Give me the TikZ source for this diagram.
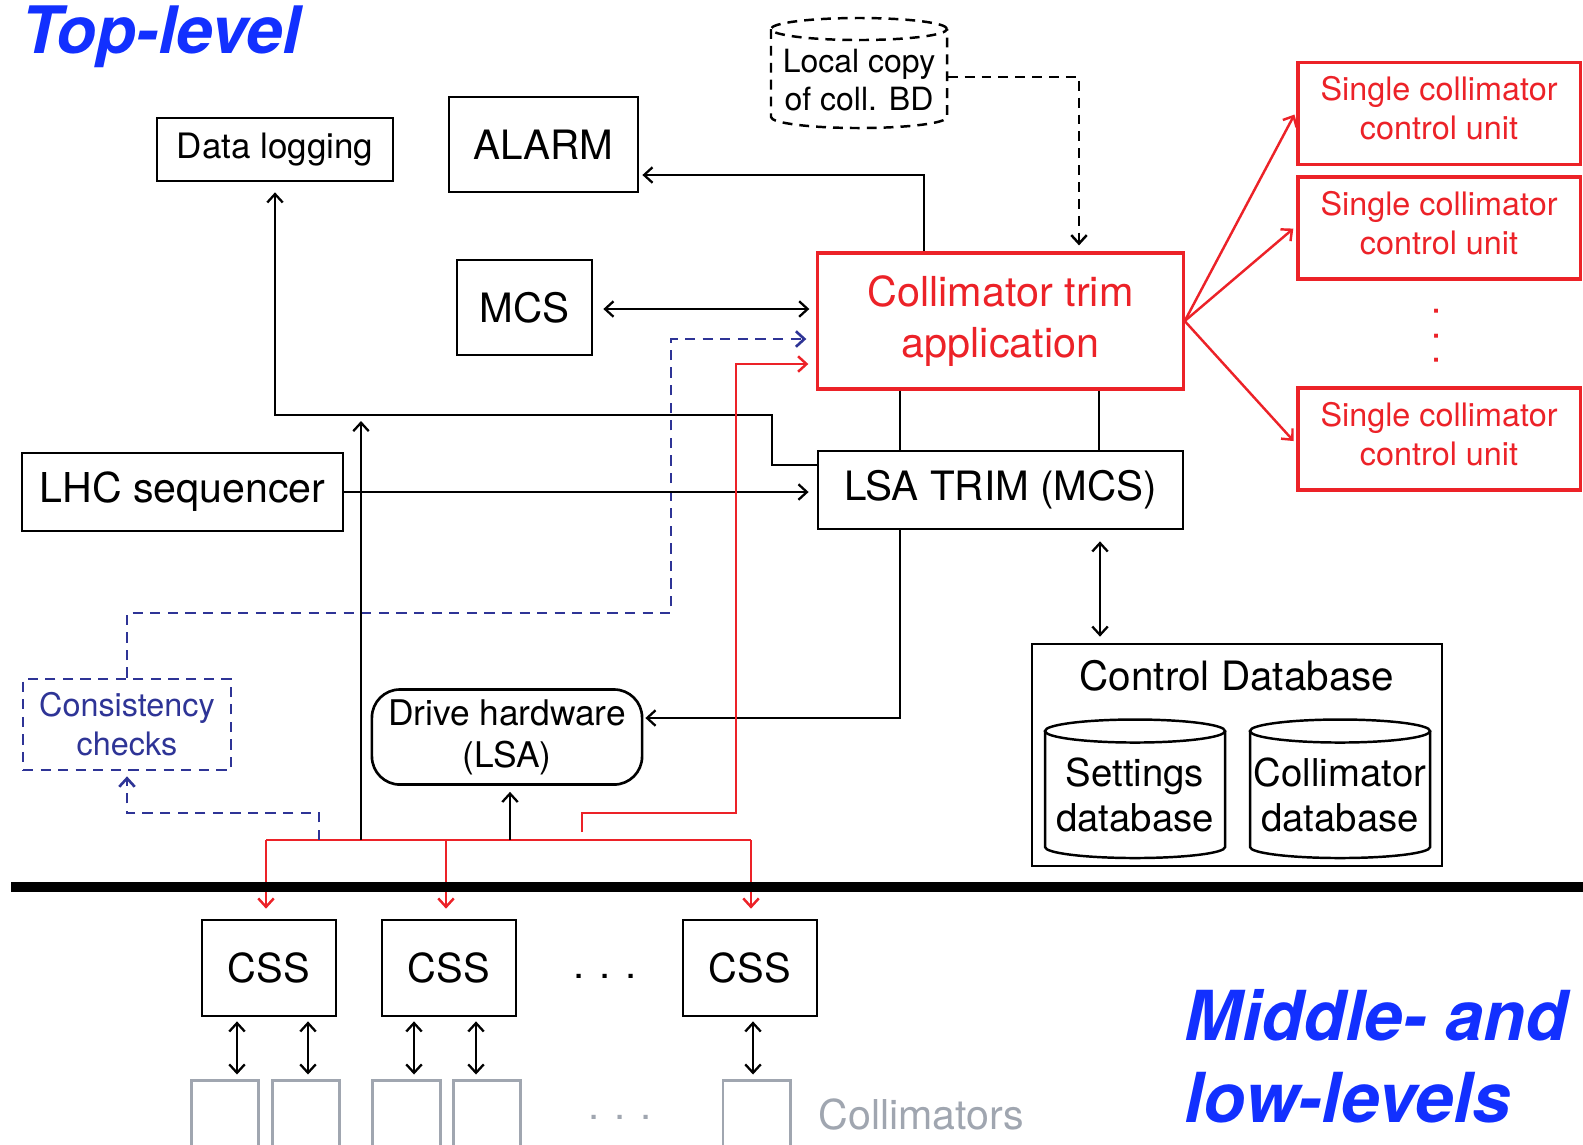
\documentclass[tikz,border=0pt]{standalone}
\usepackage{fontspec}
\setmainfont{TeX Gyre Heros}
\usetikzlibrary{arrows.meta}

\definecolor{trimred}{RGB}{236,34,40}
\definecolor{chkblue}{RGB}{46,52,150}
\definecolor{lvlblue}{RGB}{18,48,255}
\definecolor{collgray}{RGB}{160,166,176}

\begin{document}
\begin{tikzpicture}[x=0.01cm, y=-0.01cm,
  tip/.style={-{Straight Barb[length=2.4pt,width=4.4pt]}},
  dtip/.style={{Straight Barb[length=2.4pt,width=4.4pt]}-{Straight Barb[length=2.4pt,width=4.4pt]}},
  box/.style={draw, line width=0.75pt, inner sep=0pt, align=center},
  redbox/.style={box, draw=trimred, text=trimred, line width=0.9pt},
  unitbox/.style={redbox, minimum width=2.82cm, minimum height=1.02cm, text depth=3pt, font=\fontsize{9.2pt}{11.1pt}\selectfont},
  collbox/.style={draw=collgray, line width=0.85pt, inner sep=0pt, minimum width=0.67cm, minimum height=1.0cm},
  wire/.style={line width=0.65pt},
  redwire/.style={line width=0.7pt, draw=trimred},
  dashline/.style={line width=0.7pt, dash pattern=on 2.8pt off 2pt},
  chk/.style={line width=0.75pt, draw=chkblue, dash pattern=on 2.9pt off 2.1pt},
  big/.style={font=\fontsize{11.5pt}{14pt}\selectfont},
  level/.style={anchor=base west, inner sep=0pt, text=lvlblue}
]
\useasboundingbox (0,0) rectangle (1583,1144);

% level titles
\node[level, font=\bfseries\itshape\fontsize{18.6pt}{22pt}\selectfont] (toplevel) at (21,53) {Top-level};
\node[level, font=\bfseries\itshape\fontsize{19.6pt}{23pt}\selectfont] (midlevel) at (1184,1040) {Middle- and};
\node[level, font=\bfseries\itshape\fontsize{19.6pt}{23pt}\selectfont] (lowlevel) at (1184,1122) {low-levels};

% top-level blocks
\node[box, minimum width=2.36cm, minimum height=0.63cm, font=\fontsize{9.95pt}{12pt}\selectfont] (datalog) at (275,149.5) {Data logging};
\node[box, big, minimum width=1.89cm, minimum height=0.95cm] (alarm) at (543.5,144.5) {ALARM};
\node[box, big, minimum width=1.35cm, minimum height=0.95cm] (mcs) at (524.5,307.5) {MCS};
\node[redbox, minimum width=3.65cm, minimum height=1.36cm, font=\fontsize{11.75pt}{14.5pt}\selectfont] (trim) at (1000.5,321) {Collimator trim\\application};
\node[box, big, minimum width=3.65cm, minimum height=0.78cm] (lsa) at (1000.5,490) {LSA TRIM (MCS)};
\node[box, minimum width=3.21cm, minimum height=0.78cm, font=\fontsize{11.7pt}{14pt}\selectfont] (lhc) at (182.5,492) {LHC sequencer};
\node[draw=chkblue, text=chkblue, chk, inner sep=0pt, align=center, minimum width=2.08cm, minimum height=0.91cm, font=\fontsize{9.2pt}{11.1pt}\selectfont] (cons) at (127,724.5) {Consistency\\checks};
\node[box, rounded corners=0.28cm, minimum width=2.70cm, minimum height=0.95cm, font=\fontsize{10.05pt}{12pt}\selectfont] (drive) at (507,737) {Drive hardware\\(LSA)};

% local copy of the collimator database
\node[inner sep=0pt, align=center, minimum width=1.76cm, minimum height=0.9cm, font=\fontsize{9.1pt}{10.8pt}\selectfont] (localdb) at (859,80) {Local copy\\of coll. BD};
\draw[dashline] (771,29) -- (771,117) arc[start angle=180, end angle=360, x radius=0.88cm, y radius=0.11cm] -- (947,29);
\draw[dashline] (859,29) ellipse[x radius=0.88cm, y radius=0.11cm];

% single collimator control units
\node[unitbox] (u1) at (1439,113.5) {Single collimator\\control unit};
\node[unitbox] (u2) at (1439,228) {Single collimator\\control unit};
\node[unitbox] (u3) at (1439,439) {Single collimator\\control unit};
\node[text=trimred, rotate=90, inner sep=0pt, font=\fontsize{10.8pt}{13pt}\selectfont] (udots) at (1436,336) {. . .};

% control database
\node[box, minimum width=4.10cm, minimum height=2.22cm] (ctrldb) at (1237,755) {};
\node[big, inner sep=0pt] (ctrltitle) at (1237,676) {Control Database};
\node[inner sep=0pt, align=center, font=\fontsize{10.9pt}{12.8pt}\selectfont] (setdb) at (1135,795) {Settings\\database};
\node[inner sep=0pt, align=center, font=\fontsize{10.9pt}{12.8pt}\selectfont] (colldb) at (1340,795) {Collimator\\database};
\draw[line width=0.7pt] (1045,731) -- (1045,847) arc[start angle=180, end angle=360, x radius=0.9cm, y radius=0.11cm] -- (1225,731);
\draw[line width=0.7pt] (1135,731) ellipse[x radius=0.9cm, y radius=0.115cm];
\draw[line width=0.7pt] (1250,731) -- (1250,847) arc[start angle=180, end angle=360, x radius=0.9cm, y radius=0.11cm] -- (1430,731);
\draw[line width=0.7pt] (1340,731) ellipse[x radius=0.9cm, y radius=0.115cm];

% CSS units and collimators
\node[box, minimum width=1.34cm, minimum height=0.96cm, font=\fontsize{11.35pt}{14pt}\selectfont] (css1) at (269,968) {CSS};
\node[box, minimum width=1.34cm, minimum height=0.96cm, font=\fontsize{11.35pt}{14pt}\selectfont] (css2) at (449,968) {CSS};
\node[box, minimum width=1.34cm, minimum height=0.96cm, font=\fontsize{11.35pt}{14pt}\selectfont] (css3) at (750,968) {CSS};
\node[inner sep=0pt, font=\fontsize{11.4pt}{14pt}\selectfont] (cssdots) at (605,976) {. . .};
\node[collbox] (col1) at (225,1130) {};
\node[collbox] (col2) at (306,1130) {};
\node[collbox] (col3) at (406.5,1130) {};
\node[collbox] (col4) at (487,1130) {};
\node[collbox] (col5) at (756.5,1130) {};
\node[inner sep=0pt, text=collgray, font=\fontsize{11.4pt}{14pt}\selectfont] (coldots) at (620,1117) {. . .};
\node[anchor=west, inner sep=0pt, text=collgray, font=\fontsize{11.7pt}{14pt}\selectfont] (colltext) at (818,1114) {Collimators};

% bus points
\coordinate (bus1) at (266,840);
\coordinate (bus2) at (446,840);
\coordinate (bus3) at (751,840);
\coordinate (tapLog) at (361,840);
\coordinate (tapChk) at (319,840);
\coordinate (tapDrv) at (510,840);
\coordinate (tapTrim) at (582,832);

% connectors of the top level
\draw[wire,tip,shorten >=0.1cm] (lsa.west |- 0,465) -- (772,465) -- (772,415) -- (datalog.south |- 0,415) -- (datalog.south);
\draw[wire,tip,shorten >=0.03cm] (trim.north -| 924,0) -- (924,175) -- (alarm.east |- 0,175);
\draw[wire,dtip,shorten <=0.1cm,shorten >=0.07cm] (mcs.east |- 0,309) -- (trim.west |- 0,309);
\draw[dashline,tip,shorten >=0.06cm] (localdb.east |- 0,77) -- (1079,77) -- (trim.north -| 1079,0);
\draw[chk,tip,shorten >=0.1cm] (cons.north) -- (127,613) -- (671,613) -- (671,339) -- (trim.west |- 0,339);
\draw[wire,tip,shorten >=0.08cm] (lhc.east) -- (lsa.west |- lhc.east);
\draw[wire] (trim.south -| 900,0) -- (lsa.north -| 900,0);
\draw[wire] (trim.south -| 1099,0) -- (lsa.north -| 1099,0);
\draw[wire,tip,shorten >=0.02cm] (lsa.south -| 900,0) -- (900,718) -- (drive.east |- 0,718);
\draw[wire,dtip,shorten <=0.11cm,shorten >=0.06cm] (lsa.south -| 1100,0) -- (ctrldb.north -| 1100,0);
\draw[redwire,tip,shorten >=0.04cm] (trim.east) -- (u1.west |- 0,111);
\draw[redwire,tip,shorten >=0.04cm] (trim.east) -- (u2.west |- 0,226);
\draw[redwire,tip,shorten >=0.04cm] (trim.east) -- (u3.west |- 0,444);

% connectors from the CSS bus
\draw[redwire] (bus1) -- (bus3);
\draw[redwire,tip,shorten >=0.1cm] (bus1) -- (css1.north -| bus1);
\draw[redwire,tip,shorten >=0.1cm] (bus2) -- (css2.north -| bus2);
\draw[redwire,tip,shorten >=0.1cm] (bus3) -- (css3.north -| bus3);
\draw[redwire,tip,shorten >=0.08cm] (tapTrim) -- (582,813) -- (736,813) -- (736,364) -- (trim.west |- 0,364);
\draw[wire,tip] (tapLog) -- (361,421);
\draw[wire,tip,shorten >=0.06cm] (tapDrv) -- (drive.south -| tapDrv);
\draw[chk,tip,shorten >=0.05cm] (tapChk) -- (319,813) -- (127,813) -- (cons.south);

% separator between the levels
\draw[line width=0.1cm] (11,887) -- (1600,887);

% CSS to collimators
\draw[wire,dtip,shorten <=0.04cm,shorten >=0.04cm] (css1.south -| 237,0) -- (col1.north -| 237,0);
\draw[wire,dtip,shorten <=0.04cm,shorten >=0.04cm] (css1.south -| 308,0) -- (col2.north -| 308,0);
\draw[wire,dtip,shorten <=0.04cm,shorten >=0.04cm] (css2.south -| 414,0) -- (col3.north -| 414,0);
\draw[wire,dtip,shorten <=0.04cm,shorten >=0.04cm] (css2.south -| 476,0) -- (col4.north -| 476,0);
\draw[wire,dtip,shorten <=0.04cm,shorten >=0.04cm] (css3.south -| 753,0) -- (col5.north -| 753,0);
\end{tikzpicture}
\end{document}
